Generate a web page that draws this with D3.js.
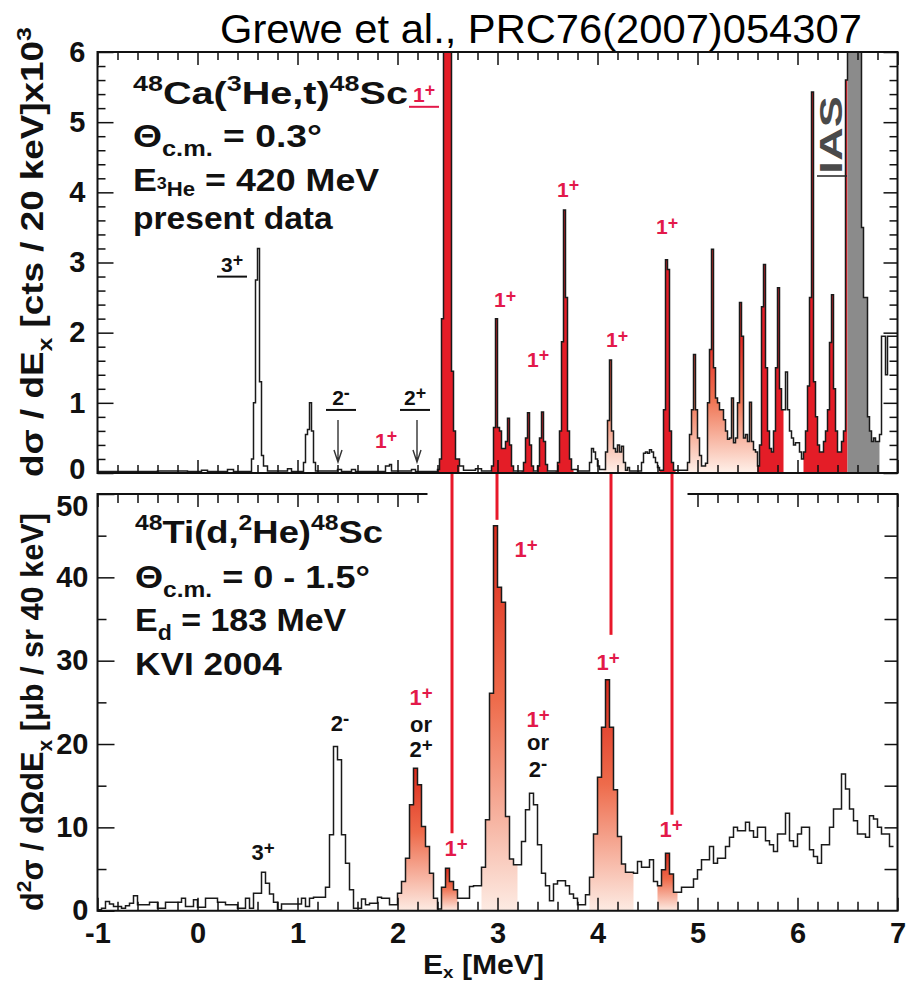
<!DOCTYPE html>
<html>
<head>
<meta charset="utf-8">
<script src="https://cdn.jsdelivr.net/npm/d3@7"></script>
<style>
body { margin: 0; background: #fff; }
svg { display: block; font-family: "Liberation Sans", Arial, Helvetica, sans-serif; }
</style>
</head>
<body>
<script>

// ---- data ----

// top panel: 48Ca(3He,t), 20 keV bins, given as step starts (MeV) and heights
var topEx = [-1.00,-0.40,-0.10,0.04,0.10,0.30,0.36,0.54,0.56,0.58,0.60,0.62,0.64,0.66,0.70,0.90,0.94,
  1.06,1.08,1.10,1.12,1.14,1.16,1.18,1.40,1.44,1.54,1.58,1.88,1.92,1.94,2.14,2.18,
  2.40,2.42,2.44,2.46,2.48,2.50,2.52,2.54,2.56,2.58,2.62,2.66,2.78,2.84,
  2.94,2.96,2.98,3.00,3.02,3.04,3.08,3.10,3.12,3.14,3.16,3.26,3.28,3.30,3.32,3.34,3.36,
  3.40,3.42,3.44,3.46,3.48,3.50,3.60,3.62,3.64,3.66,3.68,3.70,3.72,3.74,3.80,
  3.92,3.94,3.96,3.98,4.00,4.02,4.08,4.10,4.12,4.14,4.16,4.18,4.20,4.22,4.24,4.26,4.28,4.30,4.32,
  4.44,4.46,4.48,4.50,4.52,4.54,4.56,4.58,4.60,4.62,4.66,4.68,4.70,4.72,4.74,4.76,
  4.90,4.92,4.94,4.96,4.98,5.00,5.02,5.04,5.08,5.10,5.12,5.14,5.16,5.18,5.20,5.22,5.26,5.28,5.30,
  5.32,5.34,5.36,5.38,5.40,5.42,5.44,5.46,5.48,5.50,5.52,5.54,5.56,5.58,5.60,
  5.62,5.64,5.66,5.68,5.70,5.72,5.74,5.76,5.78,5.80,5.82,5.84,5.88,5.90,5.92,5.94,5.96,5.98,6.02,6.04,
  6.06,6.08,6.10,6.12,6.14,6.16,6.18,6.20,6.22,6.26,6.28,6.30,6.32,6.34,6.36,6.38,6.40,6.44,6.46,
  6.48,6.50,6.52,6.54,6.56,6.58,6.60,6.62,6.64,6.66,6.70,6.72,6.74,6.76,6.78,6.82,6.84,6.88,6.90];
var topCounts = [0.02,0.03,0.02,0.04,0.02,0.05,0.02,0.2,1.0,2.75,3.2,1.3,0.25,0.1,0.03,0.06,0.02,
  0.15,0.55,0.62,1.0,0.6,0.15,0.03,0.05,0.02,0.05,0.02,0.1,0.12,0.03,0.05,0.02,
  0.05,0.2,2.2,9,14,10,7,1.45,0.6,0.2,0.1,0.04,0.06,0.03,
  0.1,0.65,2.2,0.65,0.6,0.35,0.45,0.78,0.4,0.1,0.03,0.15,0.5,0.86,0.4,0.1,0.03,
  0.1,0.5,0.87,0.45,0.12,0.03,0.15,0.6,1.87,3.75,2.5,0.6,0.2,0.05,0.03,
  0.15,0.35,0.3,0.2,0.1,0.05,0.3,0.75,1.61,0.6,0.35,0.3,0.4,0.3,0.38,0.15,0.04,0.08,0.03,
  0.15,0.28,0.3,0.28,0.33,0.3,0.22,0.15,0.08,0.04,0.9,3.04,2.9,0.6,0.15,0.04,
  0.15,0.55,0.9,1.69,0.9,0.5,0.25,0.1,0.14,1.0,1.76,3.19,1.5,1.07,1.0,0.9,0.76,0.6,0.48,
  0.5,1.07,0.43,0.5,1.0,2.43,1.95,0.5,0.55,0.45,1.01,0.45,0.33,0.3,0.1,
  0.4,2.37,2.97,1.5,0.6,0.35,0.3,0.6,1.5,2.64,1.2,0.9,1.44,0.9,0.6,0.5,0.4,0.43,0.3,0.2,
  0.3,0.6,1.24,2.5,5.43,1.3,0.8,0.4,0.3,0.45,0.6,0.9,1.86,2.54,1.2,0.6,0.3,0.45,0.6,
  5.6,9,12,14,12,9,7,6.3,3.5,2.5,0.8,0.6,0.45,0.5,0.45,0.55,1.95,1.4,1.95];
var topEnd = 7.0;

// filled parts of the top spectrum: [from, to]
var topRed = [[2.40,2.62],[2.94,3.16],[3.24,3.36],[3.40,3.50],[3.58,3.76],[4.62,4.78],[5.60,5.86],[6.06,6.50]];
var topFaded = [[4.06,4.32],[4.88,5.60]];
var topIAS = [[6.50,6.82]];

// bottom panel: 48Ti(d,2He), 40 keV bins from -1 MeV
var botStart = -1, botBin = 0.04;
var botCounts = [0.1,0.3,1.1,0.8,0.5,0.5,0.3,0.6,0.9,1.8,0.7,0.7,0.7,1.0,1.0,0.3,0.3,1.0,1.0,1.0,
  1.0,1.5,0.5,0.5,1.3,0.4,0.4,1.5,1.5,1.5,1.0,1.0,0.7,0.7,0.7,0.3,0.3,1.5,0.3,2.1,
  2.1,4.6,3.3,2.0,1.0,0.1,0.8,0.8,0.8,0.8,0.8,1.5,0.5,1.5,1.6,1.6,1.6,2.8,9.1,19.7,
  18.1,9.1,5.7,2.5,0.3,0.3,1.4,0.7,0.9,0.9,1.6,1.5,1.5,0.7,0.7,2.1,3.5,6.3,12.7,17.1,
  15.1,10.1,7.7,4.5,1.5,0.2,2.8,5.1,3.5,2.5,1.5,1.5,1.5,2.9,3.0,3.0,5.2,10.9,26.1,46.2,
  38.8,37.0,11.3,6.2,5.5,5.5,8.3,12.1,14.1,12.7,7.9,4.5,3.0,1.2,3.2,3.6,3.6,3.0,2.0,1.5,
  0.7,0.7,1.9,4.0,9.2,16.0,22.0,27.7,22.0,14.5,8.9,5.6,4.6,4.6,4.5,5.9,5.2,5.2,6.1,3.5,
  3.0,4.9,6.9,4.4,2.2,2.2,2.8,2.8,2.8,3.8,4.9,6.1,6.1,7.7,5.7,6.3,6.3,7.7,8.8,10.0,
  9.6,9.6,10.6,9.6,8.8,10.0,10.0,8.4,7.9,7.1,9.2,9.2,11.7,8.4,7.7,9.2,10.0,10.0,7.3,6.5,
  5.7,7.9,7.9,10.0,12.2,12.2,16.4,14.6,12.2,10.8,9.2,9.2,8.8,11.4,11.0,10.0,9.2,9.2,7.7];
var botFilled = [[2.00,2.40],[2.44,2.60],[2.84,3.20],[3.92,4.36],[4.60,4.80]];

// 1+ states linked between the two spectra: Ex and height reached in the lower panel
var linkEx = [2.545, 2.995, 4.135, 4.745];
var linkTo = [9.3, 46.9, 33.1, 11.5];

// state labels: [text, sign, Ex, height, colour, underline]
var topLabels = [
  ["1","+",2.265,5.29,"red",true],
  ["1","+",3.075,2.36,"red",false],
  ["1","+",3.405,1.51,"red",false],
  ["1","+",3.705,3.93,"red",false],
  ["1","+",4.195,1.79,"red",false],
  ["1","+",4.695,3.40,"red",false],
  ["1","+",1.885,0.36,"red",false],
  ["3","+",0.345,2.87,"black",true],
  ["2","-",1.435,0.97,"black",true],
  ["2","+",2.175,0.97,"black",true]
];
var arrowEx = [1.405, 2.195];
var botLabels = [
  ["3","+",0.655,6.1,"black"],
  ["2","-",1.425,21.6,"black"],
  ["1","+",2.235,24.7,"red"],["or","",2.235,21.5,"black"],["2","+",2.235,18.4,"black"],
  ["1","+",3.285,42.4,"red"],
  ["1","+",3.405,22.0,"red"],["or","",3.405,19.3,"black"],["2","-",3.405,16.1,"black"],
  ["1","+",4.105,28.9,"red"],
  ["1","+",4.735,8.8,"red"],
  ["1","+",2.585,6.6,"red"]
];

var xTicks = [-1, 0, 1, 2, 3, 4, 5, 6, 7];
var topYTicks = [0, 1, 2, 3, 4, 5, 6];
var botYTicks = [0, 10, 20, 30, 40, 50];

// ---- drawing ----
var width = 908, height = 985;
var RED = "#e41d27", LABELRED = "#e3194a";

var svg = d3.select("body").append("svg")
  .attr("width", width)
  .attr("height", height);

var x = d3.scaleLinear().domain([-1, 7]).range([97.5, 897.5]);
var yTop = d3.scaleLinear().domain([0, 6]).range([473, 52]);
var yBot = d3.scaleLinear().domain([0, 50]).range([910.7, 494]);

var defs = svg.append("defs");
defs.append("clipPath").attr("id", "clipTop")
  .append("rect").attr("x", 97).attr("y", 52).attr("width", 800).attr("height", 421);

var tg = defs.append("linearGradient").attr("id", "topFade")
  .attr("gradientUnits", "userSpaceOnUse")
  .attr("x1", 0).attr("x2", 0).attr("y1", yTop(1.9)).attr("y2", yTop(0));
tg.append("stop").attr("offset", 0).attr("stop-color", "#e42a24");
tg.append("stop").attr("offset", 0.45).attr("stop-color", "#ef7352");
tg.append("stop").attr("offset", 1).attr("stop-color", "#fff1ea");

var bg = defs.append("linearGradient").attr("id", "botFade")
  .attr("x1", 0).attr("x2", 0).attr("y1", 0).attr("y2", 1);
bg.append("stop").attr("offset", 0).attr("stop-color", "#dc2b1d");
bg.append("stop").attr("offset", 0.45).attr("stop-color", "#ee6b4b");
bg.append("stop").attr("offset", 1).attr("stop-color", "#fdebe3");

// turn the step lists into points, optionally cut to [a,b]
function topPoints(a, b) {
  var pts = [];
  for (var i = 0; i < topEx.length; i++) {
    var e0 = topEx[i], e1 = i < topEx.length - 1 ? topEx[i + 1] : topEnd;
    if (e1 <= a || e0 >= b) continue;
    pts.push([Math.max(e0, a), topCounts[i]]);
  }
  pts.push([Math.min(b, topEnd), pts[pts.length - 1][1]]);
  return pts;
}
function botPoints(a, b) {
  var pts = [];
  for (var k = 0; k < botCounts.length; k++) {
    var e0 = botStart + k * botBin, e1 = e0 + botBin;
    if (e1 <= a + 1e-9 || e0 >= b - 1e-9) continue;
    pts.push([Math.max(e0, a), botCounts[k]]);
  }
  var last = botStart + botCounts.length * botBin;
  pts.push([Math.min(b, last), pts[pts.length - 1][1]]);
  return pts;
}

var areaTop = d3.area().curve(d3.curveStepAfter)
  .x(d => x(d[0])).y0(yTop(0)).y1(d => yTop(d[1]));
var lineTop = d3.line().curve(d3.curveStepAfter)
  .x(d => x(d[0])).y(d => yTop(d[1]));
var areaBot = d3.area().curve(d3.curveStepAfter)
  .x(d => x(d[0])).y0(yBot(0)).y1(d => yBot(d[1]));
var lineBot = d3.line().curve(d3.curveStepAfter)
  .x(d => x(d[0])).y(d => yBot(d[1]));

// top spectrum
var gTop = svg.append("g").attr("clip-path", "url(#clipTop)");
topFaded.forEach(r => gTop.append("path").attr("d", areaTop(topPoints(r[0], r[1]))).attr("fill", "url(#topFade)"));
topRed.forEach(r => gTop.append("path").attr("d", areaTop(topPoints(r[0], r[1]))).attr("fill", RED));
topIAS.forEach(r => gTop.append("path").attr("d", areaTop(topPoints(r[0], r[1]))).attr("fill", "#8b8b8b"));
gTop.append("path")
  .attr("d", lineTop(topPoints(-1, topEnd)))
  .attr("fill", "none").attr("stroke", "#1a1a1a").attr("stroke-width", 1.5);

// bottom spectrum
var gBot = svg.append("g");
botFilled.forEach(r => gBot.append("path").attr("d", areaBot(botPoints(r[0], r[1]))).attr("fill", "url(#botFade)"));
gBot.append("path")
  .attr("d", lineBot(botPoints(-1, 7)))
  .attr("fill", "none").attr("stroke", "#1a1a1a").attr("stroke-width", 1.5);

// ---- axes ----
function minorsOf(lo, hi, step) {
  var out = [];
  for (var v = lo; v <= hi + 1e-9; v += step) out.push(+v.toFixed(3));
  return out;
}
var xMinor = minorsOf(-1, 7, 0.2).filter(v => Math.abs(v - Math.round(v)) > 1e-6);
var intFmt = d => d < 0 ? "-" + Math.abs(d) : String(d);

function tickAxis(axis, g) {
  g.call(axis);
  g.attr("font-family", null);
  g.select(".domain").remove();
  g.selectAll(".tick line").attr("stroke", "#111").attr("stroke-width", 1.5);
  g.selectAll("text").attr("font-weight", "bold").attr("fill", "#111").attr("font-size", 29);
  return g;
}

// top panel
tickAxis(d3.axisBottom(x).tickValues(xMinor).tickSize(-8).tickFormat(""),
  svg.append("g").attr("transform", "translate(0," + yTop(0) + ")"));
tickAxis(d3.axisBottom(x).tickValues(xTicks).tickSize(-13).tickFormat(""),
  svg.append("g").attr("transform", "translate(0," + yTop(0) + ")"));
tickAxis(d3.axisTop(x).tickValues(xMinor).tickSize(-8).tickFormat(""),
  svg.append("g").attr("transform", "translate(0," + yTop(6) + ")"));
tickAxis(d3.axisTop(x).tickValues(xTicks).tickSize(-13).tickFormat(""),
  svg.append("g").attr("transform", "translate(0," + yTop(6) + ")"));
var yTopMinor = minorsOf(0, 6, 0.2).filter(v => Math.abs(v - Math.round(v)) > 1e-6);
var gyl = tickAxis(d3.axisLeft(yTop).tickValues(topYTicks).tickSize(-16).tickPadding(12).tickFormat(intFmt),
  svg.append("g").attr("transform", "translate(" + x(-1) + ",0)"));
gyl.selectAll("text").filter(d => d == 0).attr("dy", "0.2em");
tickAxis(d3.axisLeft(yTop).tickValues(yTopMinor).tickSize(-8).tickFormat(""),
  svg.append("g").attr("transform", "translate(" + x(-1) + ",0)"));
tickAxis(d3.axisRight(yTop).tickValues(topYTicks).tickSize(-14).tickFormat(""),
  svg.append("g").attr("transform", "translate(" + x(7) + ",0)"));
tickAxis(d3.axisRight(yTop).tickValues(yTopMinor).tickSize(-8).tickFormat(""),
  svg.append("g").attr("transform", "translate(" + x(7) + ",0)"));

// bottom panel
tickAxis(d3.axisBottom(x).tickValues(xMinor).tickSize(-9).tickFormat(""),
  svg.append("g").attr("transform", "translate(0," + yBot(0) + ")"));
tickAxis(d3.axisBottom(x).tickValues(xTicks).tickSize(-13).tickPadding(12).tickFormat(intFmt),
  svg.append("g").attr("transform", "translate(0," + yBot(0) + ")"));
var gapLo = 2.3, gapHi = 4.9; // top edge of the lower frame is cut here
tickAxis(d3.axisTop(x).tickValues(xMinor.filter(v => v < gapLo || v > gapHi)).tickSize(-9).tickFormat(""),
  svg.append("g").attr("transform", "translate(0," + yBot(50) + ")"));
tickAxis(d3.axisTop(x).tickValues(xTicks.filter(v => v < gapLo || v > gapHi)).tickSize(-13).tickFormat(""),
  svg.append("g").attr("transform", "translate(0," + yBot(50) + ")"));
var gybl = tickAxis(d3.axisLeft(yBot).tickValues(botYTicks).tickSize(-17).tickPadding(9).tickFormat(intFmt),
  svg.append("g").attr("transform", "translate(" + x(-1) + ",0)"));
gybl.selectAll("text").filter(d => d == 50).attr("dy", "0.75em");
tickAxis(d3.axisLeft(yBot).tickValues([5, 15, 25, 35, 45]).tickSize(-9).tickFormat(""),
  svg.append("g").attr("transform", "translate(" + x(-1) + ",0)"));
tickAxis(d3.axisRight(yBot).tickValues(minorsOf(5, 45, 5)).tickSize(-13).tickFormat(""),
  svg.append("g").attr("transform", "translate(" + x(7) + ",0)"));

// frames
var frame = svg.append("g").attr("stroke", "#111").attr("stroke-width", 2).attr("fill", "none");
frame.append("rect").attr("x", x(-1)).attr("y", yTop(6)).attr("width", x(7) - x(-1)).attr("height", yTop(0) - yTop(6));
frame.append("path").attr("d",
  "M" + x(gapLo) + "," + yBot(50) + "H" + x(-1) + "V" + yBot(0) + "H" + x(7) + "V" + yBot(50) + "H" + x(gapHi));

// ---- text helpers ----
var modes = { n: [0, 1], sup: [-0.4, 0.68], sub: [0.28, 0.68], lowsub: [0.16, 0.62], sub3: [-0.05, 0.5], psup: [-0.28, 0.85] };
function rich(g, parts, size) {
  var t = g.append("text").attr("font-size", size).attr("font-weight", "bold");
  var prev = 0;
  parts.forEach(function (p) {
    var m = modes[p[1] || "n"];
    var off = m[0] * size;
    t.append("tspan").attr("dy", off - prev).attr("font-size", size * m[1]).text(p[0]);
    prev = off;
  });
  return t;
}
function fit(t, target) {
  var w = t.node().getBBox().width;
  t.attr("transform", "scale(" + (target / w) + ",1)");
}
function place(px, py, rot) {
  return svg.append("g").attr("transform", "translate(" + px + "," + py + ")" + (rot ? " rotate(" + rot + ")" : ""));
}

// title
var title = place(220, 43).append("text").attr("font-size", 40).text("Grewe et al., PRC76(2007)054307");
fit(title, 642);

// reaction boxes
var topBox = [
  [[["48", "sup"], ["Ca("], ["3", "sup"], ["He,t)"], ["48", "sup"], ["Sc"]], 104, 275],
  [[["Θ"], ["c.m.", "sub"], [" = 0.3°"]], 147, 189],
  [[["E"], ["3", "sub3"], ["He", "lowsub"], [" = 420 MeV"]], 191, 247],
  [[["present data"]], 229, 200]
];
topBox.forEach(l => fit(rich(place(133, l[1]), l[0], 32).attr("fill", "#111"), l[2]));
var botBox = [
  [[["48", "sup"], ["Ti(d,"], ["2", "sup"], ["He)"], ["48", "sup"], ["Sc"]], 543, 248],
  [[["Θ"], ["c.m.", "sub"], [" = 0 - 1.5°"]], 588, 235],
  [[["E"], ["d", "sub"], [" = 183 MeV"]], 631, 212],
  [[["KVI 2004"]], 675, 147]
];
botBox.forEach(l => fit(rich(place(135, l[1]), l[0], 32).attr("fill", "#111"), l[2]));

// axis titles
var yl1 = rich(place(43, 252, -90), [["dσ / dE"], ["x", "sub"], [" [cts / 20 keV]x10"], ["3", "sup"]], 31)
  .attr("text-anchor", "middle").attr("fill", "#111");
fit(yl1, 450);
var yl2 = rich(place(43, 712, -90), [["d"], ["2", "sup"], ["σ / dΩdE"], ["x", "sub"], [" [μb / sr 40 keV]"]], 31)
  .attr("text-anchor", "middle").attr("fill", "#111");
fit(yl2, 398);
var xl = rich(place(423, 974), [["E"], ["x", "lowsub"], [" [MeV]"]], 27).attr("fill", "#111");
fit(xl, 121);

// IAS marker
var ias = place(842, 135, -90).append("text").attr("font-size", 32).attr("font-weight", "bold")
  .attr("fill", "#4a4a4a").attr("text-anchor", "middle").text("IAS");
fit(ias, 78);
svg.append("line").attr("x1", 817).attr("x2", 847).attr("y1", 176).attr("y2", 176)
  .attr("stroke", "#222").attr("stroke-width", 1.5);

// links between the spectra
linkEx.forEach(function (e, i) {
  svg.append("line")
    .attr("x1", x(e)).attr("x2", x(e))
    .attr("y1", yTop(0) + 1).attr("y2", yBot(linkTo[i]))
    .attr("stroke", "#e8182a").attr("stroke-width", 3);
});

// state labels
topLabels.forEach(function (d) {
  var col = d[4] == "red" ? LABELRED : "#111";
  rich(place(x(d[2]), yTop(d[3])), [[d[0]], [d[1], "psup"]], 21)
    .attr("text-anchor", "middle").attr("fill", col);
  if (d[5]) {
    svg.append("line")
      .attr("x1", x(d[2]) - 15).attr("x2", x(d[2]) + 15)
      .attr("y1", yTop(d[3]) + 5).attr("y2", yTop(d[3]) + 5)
      .attr("stroke", col).attr("stroke-width", 2);
  }
});
arrowEx.forEach(function (e) {
  var ax = x(e);
  svg.append("path")
    .attr("d", "M" + ax + "," + 420 + "V" + 462 + "M" + (ax - 4) + "," + 450 + "L" + ax + "," + 462 + "L" + (ax + 4) + "," + 450)
    .attr("fill", "none").attr("stroke", "#333").attr("stroke-width", 1.4);
});
botLabels.forEach(function (d) {
  var col = d[4] == "red" ? LABELRED : "#111";
  var parts = d[1] ? [[d[0]], [d[1], "psup"]] : [[d[0]]];
  rich(place(x(d[2]), yBot(d[3])), parts, 22).attr("text-anchor", "middle").attr("fill", col);
});

</script>
</body>
</html>
